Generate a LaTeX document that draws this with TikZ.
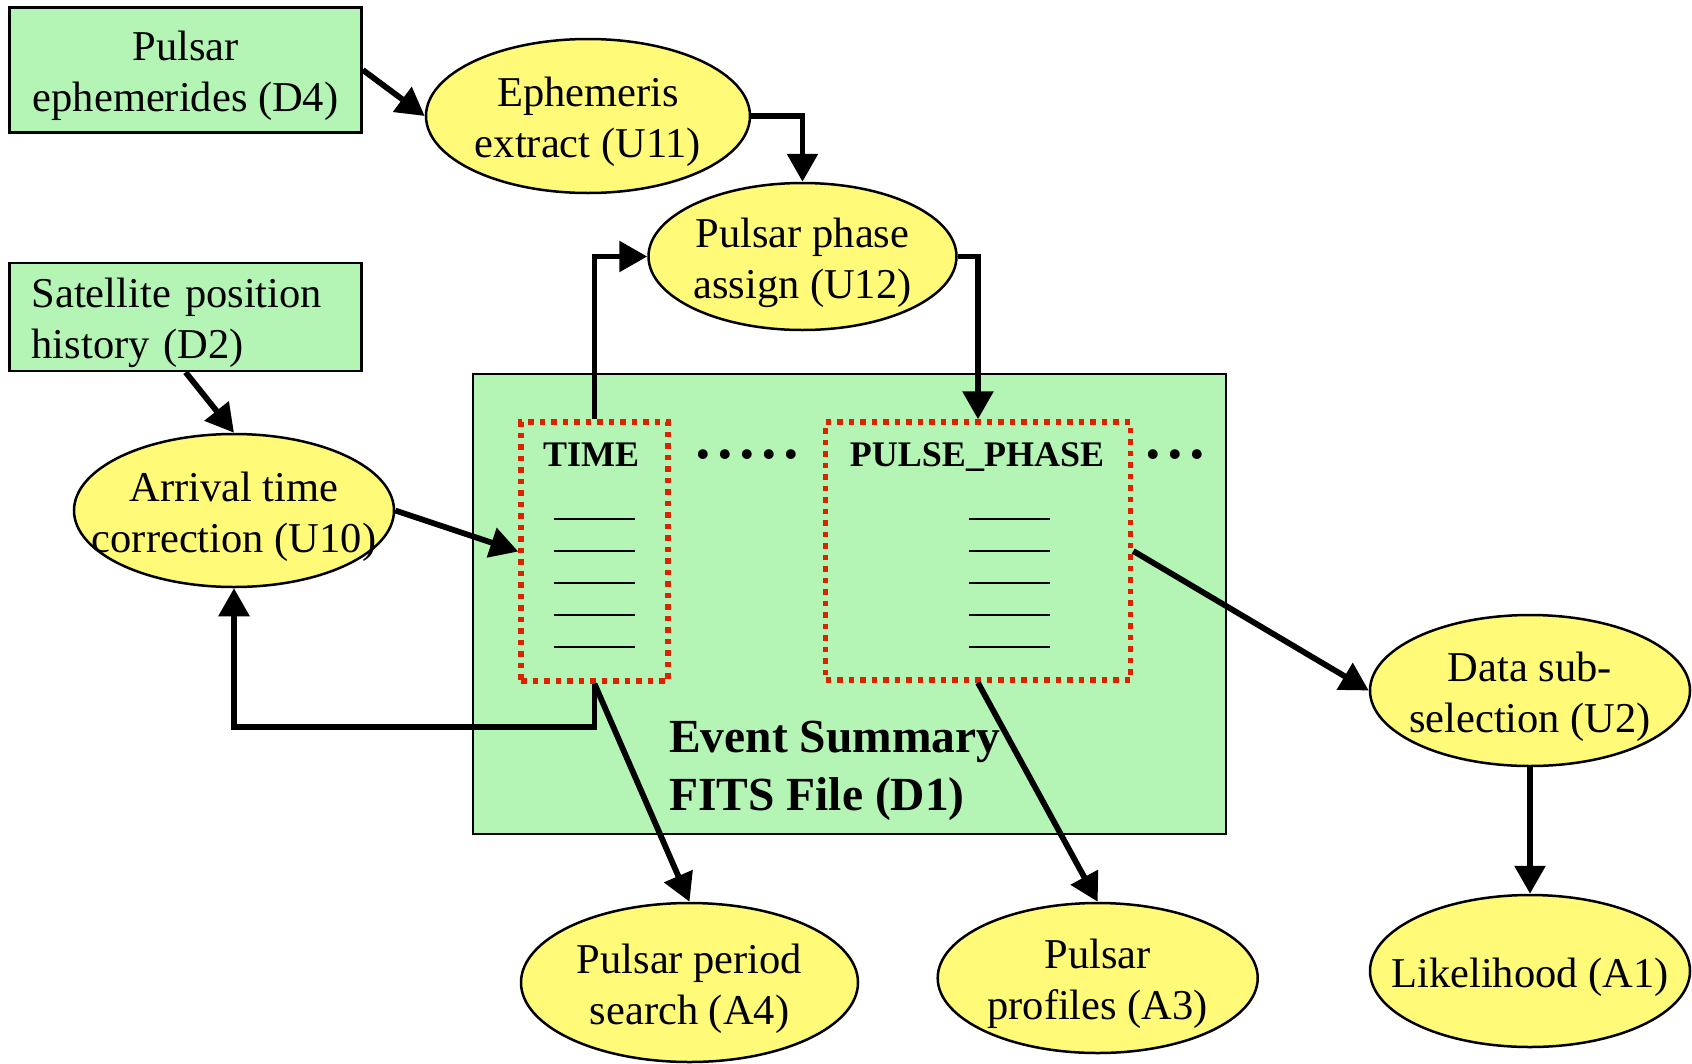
\documentclass[tikz,border=0pt]{standalone}
\usepackage{fontspec}
\setmainfont{Liberation Serif}
\usetikzlibrary{arrows.meta,shapes.geometric}
\definecolor{boxgreen}{RGB}{180,245,182}
\definecolor{ellyellow}{RGB}{255,250,120}
\definecolor{dotred}{RGB}{221,34,0}
\newcommand\bulsep{\hspace{9.4pt}}
\newcommand\zc[1]{\makebox[0pt]{#1}}
\newcommand\tp{\rule{0pt}{42pt}}
\begin{document}
\begin{tikzpicture}[x=1pt,y=-1pt,
  databox/.style={draw=black, line width=2.5pt, fill=boxgreen, rectangle, inner sep=0pt, font=\fontsize{42.5}{51}\selectfont},
  proc/.style={draw=black, line width=2.5pt, fill=ellyellow, ellipse, inner sep=0pt, align=center, font=\fontsize{42.5}{51}\selectfont},
  colbox/.style={draw=dotred, line width=5.5pt, dash pattern=on 5.5pt off 6pt, rectangle, inner sep=0pt},
  coltitle/.style={font=\bfseries\fontsize{36}{42}\selectfont, inner sep=0pt},
  flow/.style={draw=black, line width=5.8pt, -{Triangle[length=28pt,width=30pt]}},
  rowrule/.style={draw=black, line width=1.8pt}]
\useasboundingbox (0,0) rectangle (1692,1063);
% data boxes
\node[databox, minimum width=352pt, minimum height=125pt, align=center] (D4) at (185.6,70) {\tp Pulsar\\ephemerides (D4)};
\node[databox, minimum width=352pt, minimum height=108pt, align=left, text width=308pt] (D2) at (185.6,317) {\tp Satellite position\\history (D2)};
\node[databox, minimum width=753pt, minimum height=460pt] (D1) at (849.5,604) {};
% columns
\node[colbox, minimum width=147pt, minimum height=259pt] (TIME) at (594.5,551.5) {};
\node[colbox, minimum width=305pt, minimum height=258pt] (PP) at (978,551) {};
\node[coltitle, anchor=base] (TIMEt) at (591,466) {TIME};
\node[coltitle, anchor=base] (PPt) at (977,466) {PULSE\_PHASE};
\node[coltitle, anchor=base] (dots1) at (747,466) {•\bulsep•\bulsep•\bulsep•\bulsep•};
\node[coltitle, anchor=base] (dots2) at (1175,466) {•\bulsep•\bulsep•};
\foreach \yy in {519,551,583,615,647} {
  \draw[rowrule] (553.6,\yy) -- (635,\yy);
  \draw[rowrule] (969,\yy) -- (1050,\yy);
}
\node[anchor=base west, align=left, inner sep=0pt, font=\bfseries\fontsize{47.5}{58}\selectfont] (D1label) at (669,810) {Event Summary\\FITS File (D1)};
% processes
\node[proc, minimum width=324pt, minimum height=154pt] (U11) at (588,116) {\zc{\tp Ephemeris}\\\zc{extract (U11)}};
\node[proc, minimum width=308pt, minimum height=147pt] (U12) at (802.5,256.5) {\zc{\tp Pulsar phase}\\\zc{assign (U12)}};
\node[proc, minimum width=320pt, minimum height=153pt] (U10) at (234,510.5) {\zc{\tp Arrival time}\\\zc{correction (U10)}};
\node[proc, minimum width=320pt, minimum height=151pt] (U2) at (1530,690.5) {\zc{\tp Data sub-}\\\zc{selection (U2)}};
\node[proc, minimum width=320pt, minimum height=152pt] (A1) at (1530,971) {\zc{\tp Likelihood (A1)}};
\node[proc, minimum width=337pt, minimum height=159pt] (A4) at (689.5,982.5) {\zc{\tp Pulsar period}\\\zc{search (A4)}};
\node[proc, minimum width=320pt, minimum height=150pt] (A3) at (1097.7,978) {\zc{\tp Pulsar}\\\zc{profiles (A3)}};
% connectors
\coordinate (fb) at (0,727);
\draw[flow] (D4.east) -- (U11.west);
\draw[flow] (U11.east) -| (U12.north);
\draw[flow] (TIME.north) |- (U12.west);
\draw[flow] (U12.east) -| (PP.north);
\draw[flow] (D2.south) -- (U10.north);
\draw[flow] (U10.east) -- (TIME.west);
\draw[flow] (TIME.south) -- (TIME.south |- fb) -| (U10.south);
\draw[flow] (TIME.south) -- (A4.north);
\draw[flow] (PP.south) -- (A3.north);
\draw[flow] (PP.east) -- (U2.west);
\draw[flow] (U2.south) -- (A1.north);
\end{tikzpicture}
\end{document}
